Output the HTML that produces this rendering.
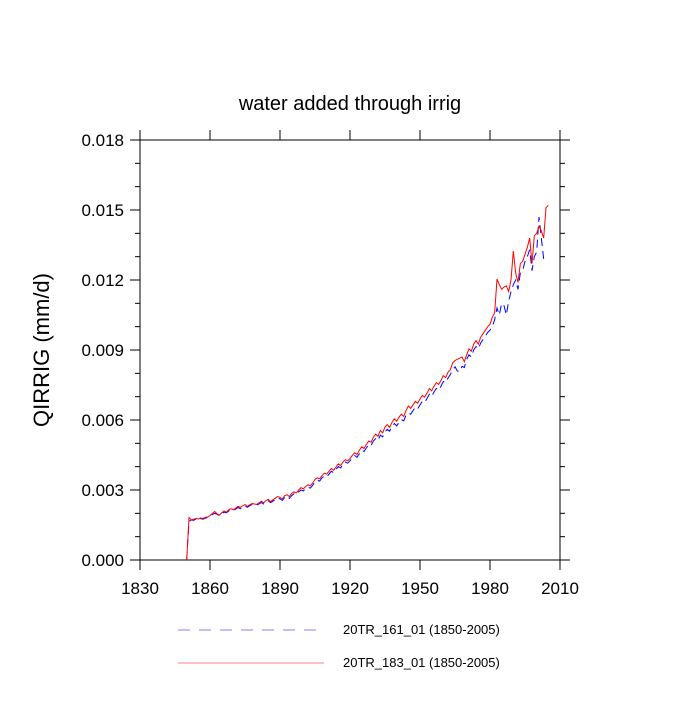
<!DOCTYPE html>
<html><head><meta charset="utf-8"><style>
body{margin:0;background:#fff;font-family:"Liberation Sans",sans-serif}
</style></head><body>
<svg width="700" height="700" xmlns="http://www.w3.org/2000/svg">
<rect width="700" height="700" fill="#fff"/>
<text x="350" y="110" font-size="20" text-anchor="middle">water added through irrig</text>
<text transform="translate(49,350) rotate(-90)" font-size="22" text-anchor="middle">QIRRIG  (mm/d)</text>
<g id="axes"></g>
<g id="series"></g>
<g>
<line x1="178" y1="630" x2="318" y2="630" stroke="#8080ff" stroke-width="1" stroke-dasharray="12,9"/>
<text x="343" y="634" font-size="13">20TR_161_01 (1850-2005)</text>
<line x1="178" y1="663" x2="324" y2="663" stroke="#ff8080" stroke-width="1"/>
<text x="343" y="667" font-size="13">20TR_183_01 (1850-2005)</text>
</g>
</svg>
<script>
const yearStart = 1850;
const redValues = [0,.00182,.00172,.00175,.00178,.00176,.00180,.00178,.00183,.00185,
.00190,.00200,.00208,.00198,.00192,.00202,.00210,.00205,.00215,.00220,
.00215,.00222,.00230,.00226,.00232,.00238,.00230,.00236,.00242,.00240,
.00238,.00245,.00252,.00245,.00255,.00260,.00250,.00258,.00265,.00272,
.00268,.00262,.00275,.00280,.00272,.00285,.00292,.00288,.00300,.00310,
.00305,.00315,.00322,.00318,.00330,.00345,.00352,.00348,.00362,.00372,
.00368,.00380,.00392,.00385,.00398,.00412,.00405,.00420,.00430,.00425,
.00435,.00448,.00460,.00452,.00470,.00485,.00478,.00495,.00510,.00505,
.00525,.00540,.00530,.00555,.00545,.00570,.00580,.00568,.00590,.00605,
.00595,.00612,.00625,.00615,.00640,.00660,.00650,.00665,.00680,.00672,
.00690,.00705,.00698,.00715,.00735,.00725,.00745,.00760,.00752,.00770,
.00790,.00782,.00805,.00815,.00845,.00855,.00860,.00865,.00870,.00850,
.00880,.00905,.00895,.00925,.00940,.00925,.00955,.00970,.00985,.01000,
.01010,.01040,.01060,.01204,.01180,.01160,.01170,.01175,.01150,.01200,
.01324,.01230,.01190,.01270,.01280,.01310,.01340,.01380,.01270,.01390,
.01400,.01430,.01410,.01380,.01510,.01520];
const blueValues = [0,.00165,.00172,.00170,.00176,.00168,.00178,.00175,.00180,.00182,
.00188,.00195,.00200,.00196,.00190,.00198,.00205,.00202,.00210,.00214,
.00212,.00218,.00225,.00220,.00228,.00232,.00226,.00232,.00238,.00236,
.00234,.00240,.00246,.00240,.00250,.00254,.00246,.00252,.00260,.00266,
.00262,.00255,.00268,.00274,.00264,.00276,.00284,.00280,.00292,.00300,
.00296,.00305,.00312,.00308,.00320,.00335,.00342,.00338,.00352,.00360,
.00356,.00368,.00380,.00374,.00388,.00400,.00395,.00410,.00420,.00415,
.00425,.00436,.00448,.00440,.00455,.00470,.00465,.00480,.00495,.00490,
.00510,.00520,.00512,.00535,.00528,.00550,.00560,.00552,.00572,.00585,
.00575,.00590,.00602,.00596,.00620,.00630,.00625,.00640,.00655,.00648,
.00665,.00680,.00675,.00692,.00710,.00700,.00720,.00735,.00728,.00745,
.00765,.00760,.00780,.00795,.00815,.00828,.00810,.00808,.00830,.00825,
.00860,.00880,.00870,.00900,.00915,.00905,.00930,.00945,.00960,.00975,
.00985,.01000,.01030,.01080,.01050,.01100,.01090,.01050,.01110,.01150,
.01180,.01200,.01160,.01230,.01240,.01280,.01300,.01330,.01240,.01300,
.01320,.01470,.01380,.01290,.01300];
const xTicks = [1830,1860,1890,1920,1950,1980,2010];
const yTicks = [0,0.003,0.006,0.009,0.012,0.015,0.018];
const X0=140,X1=560,Y0=560,Y1=140;
const xs = v => X0 + (v-1830)/(2010-1830)*(X1-X0);
const ys = v => Y0 - v/0.018*(Y0-Y1);
const NS="http://www.w3.org/2000/svg";
function mk(t,a,p){const e=document.createElementNS(NS,t);for(const k in a)e.setAttribute(k,a[k]);p.appendChild(e);return e;}
const ax=document.getElementById('axes');
const frame=mk('rect',{x:X0,y:Y1,width:X1-X0,height:Y0-Y1,fill:'none',stroke:'#000','stroke-width':1},ax);


xTicks.forEach(t=>{const x=xs(t);
 mk('line',{x1:x,y1:Y0,x2:x,y2:Y0+10,stroke:'#000'},ax);
 mk('line',{x1:x,y1:Y1,x2:x,y2:Y1-10,stroke:'#000'},ax);
 const l=mk('text',{x:x,y:Y0+34,'font-size':17,'text-anchor':'middle'},ax);l.textContent=t;
 
 
});
for(let i=0;i<=18;i++){const v=i*0.001,y=ys(v),maj=i%3===0,len=maj?10:5;
 mk('line',{x1:X0,y1:y,x2:X0-len,y2:y,stroke:'#000'},ax);
 mk('line',{x1:X1,y1:y,x2:X1+len,y2:y,stroke:'#000'},ax);
}
yTicks.forEach(v=>{const l=mk('text',{x:X0-16,y:ys(v)+6,'font-size':17,'text-anchor':'end'},ax);l.textContent=v.toFixed(3);
 
 
});
const sg=document.getElementById('series');
function path(vals){return vals.map((v,i)=>(i?'L':'M')+xs(yearStart+i).toFixed(2)+','+ys(v).toFixed(2)).join('');}
const b=mk('path',{d:path(blueValues),fill:'none',stroke:'#0000ff','stroke-width':1,'stroke-dasharray':'8,5'},sg);


const r=mk('path',{d:path(redValues),fill:'none',stroke:'#ff0000','stroke-width':1},sg);


</script>
</body></html>
